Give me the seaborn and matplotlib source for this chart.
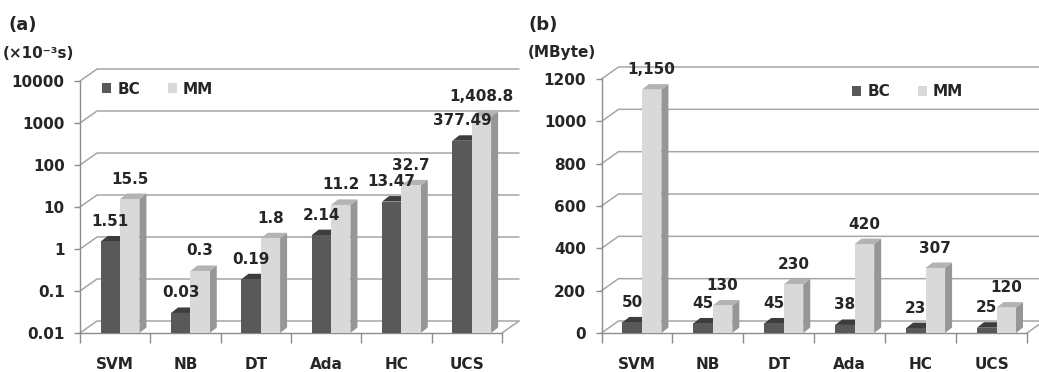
import matplotlib
matplotlib.use("Agg")
import matplotlib.pyplot as plt
import seaborn as sns
import pandas as pd
from matplotlib.patches import Polygon
from matplotlib.ticker import NullLocator, FixedLocator


# Data

methods = ["SVM", "NB", "DT", "Ada", "HC", "UCS"]
series = ["BC", "MM"]

time_bc = [1.51, 0.03, 0.19, 2.14, 13.47, 377.49]
time_mm = [15.5, 0.3, 1.8, 11.2, 32.7, 1408.8]
mem_bc = [50, 45, 45, 38, 23, 25]
mem_mm = [1150, 130, 230, 420, 307, 120]

time_ticks = [0.01, 0.1, 1, 10, 100, 1000, 10000]
time_ticklabels = ["0.01", "0.1", "1", "10", "100", "1000", "10000"]
mem_ticks = [0, 200, 400, 600, 800, 1000, 1200]
mem_ticklabels = ["0", "200", "400", "600", "800", "1000", "1200"]


# Styling

front = {"BC": "#595959", "MM": "#d9d9d9"}
side = {"BC": "#333333", "MM": "#969696"}
top = {"BC": "#3d3d3d", "MM": "#b3b3b3"}
grid_color = "#a6a6a6"
axis_color = "#8c8c8c"
text_color = "#262626"
WALL = (17, 12)     # depth of the back wall, pixels
BAR = (7, 5.5)      # depth of a bar, pixels
SHIFT = 0.07        # Excel pushes the bar pair a bit right of the category centre
FS = 11

sns.set_theme(style="white")
plt.rcParams["font.family"] = ["DejaVu Sans"]
plt.rcParams["font.weight"] = "bold"
plt.rcParams["axes.labelweight"] = "bold"
plt.rcParams["text.color"] = text_color
plt.rcParams["xtick.color"] = text_color
plt.rcParams["ytick.color"] = text_color


def shifted(ax, x, y, dx, dy):
    # move a data point by (dx, dy) pixels, return it in data coords
    px, py = ax.transData.transform((x, y))
    return ax.transData.inverted().transform((px + dx, py + dy))


def draw_panel(ax, bc, mm, ticks, ticklabels, log, legend_xy):
    df = pd.DataFrame({
        "method": methods * 2,
        "series": ["BC"] * len(methods) + ["MM"] * len(methods),
        "value": bc + mm,
    })

    sns.barplot(data=df, x="method", y="value", hue="series", palette=front,
                width=0.55, saturation=1, linewidth=0, ax=ax, zorder=3,
                log_scale=(False, True) if log else None)

    ax.set_ylim(ticks[0], ticks[-1])
    ax.set_xlim(-0.5, len(methods) - 0.5)
    ax.set_xlabel("")
    ax.set_ylabel("")
    ax.yaxis.set_major_locator(FixedLocator(ticks))
    ax.yaxis.set_minor_locator(NullLocator())
    ax.set_yticklabels(ticklabels)
    ax.xaxis.set_minor_locator(FixedLocator([i - 0.5 for i in range(len(methods) + 1)]))

    ax.tick_params(axis="y", which="major", direction="out", length=4, width=1,
                   color=axis_color, labelcolor=text_color, pad=7, labelsize=FS, left=True)
    ax.tick_params(axis="x", which="major", length=0, pad=17, labelsize=FS,
                   labelcolor=text_color)
    ax.tick_params(axis="x", which="minor", direction="out", length=7, width=1,
                   color=axis_color, bottom=True)
    for s in ["top", "right"]:
        ax.spines[s].set_visible(False)
    for s in ["left", "bottom"]:
        ax.spines[s].set_color(axis_color)
        ax.spines[s].set_linewidth(1)
        ax.spines[s].set_zorder(2)
    ax.patch.set_alpha(0)

    xl, xr = ax.get_xlim()
    y0 = ticks[0]

    # back wall grid with the diagonal from the front axis
    for t in ticks:
        bl = shifted(ax, xl, t, *WALL)
        br = shifted(ax, xr, t, *WALL)
        ax.plot([xl, bl[0], br[0]], [t, bl[1], br[1]], color=grid_color,
                lw=1.1, clip_on=False, zorder=1)
    fr = shifted(ax, xr, y0, *WALL)
    ax.plot([xr, fr[0]], [y0, fr[1]], color=grid_color, lw=1.1, clip_on=False, zorder=1)

    # bars: move pair, stand them on the floor, add side/top faces and labels
    for name, cont, vals in zip(series, ax.containers, [bc, mm]):
        for p, v in zip(cont.patches, vals):
            p.set_x(p.get_x() + SHIFT)
            p.set_y(y0)
            p.set_height(v - y0)
            x0 = p.get_x()
            x1 = x0 + p.get_width()
            yt = v
            side_pts = [(x1, y0), (x1, yt), shifted(ax, x1, yt, *BAR), shifted(ax, x1, y0, *BAR)]
            top_pts = [(x0, yt), (x1, yt), shifted(ax, x1, yt, *BAR), shifted(ax, x0, yt, *BAR)]
            ax.add_patch(Polygon(side_pts, closed=True, facecolor=side[name],
                                 edgecolor="none", zorder=2.5, clip_on=False))
            ax.add_patch(Polygon(top_pts, closed=True, facecolor=top[name],
                                 edgecolor="none", zorder=2.5, clip_on=False))
            ax.annotate(f"{v:,}", ((x0 + x1) / 2, yt), xytext=(0, 9),
                        textcoords="offset points", ha="center", va="bottom",
                        fontsize=FS, fontweight="bold", color=text_color,
                        annotation_clip=False, zorder=5)

    sns.move_legend(ax, "center left", bbox_to_anchor=legend_xy,
                    bbox_transform=ax.figure.transFigure, ncol=2, frameon=False,
                    title=None, handlelength=0.6, handleheight=0.6,
                    handletextpad=0.4, columnspacing=1.8, borderpad=0,
                    borderaxespad=0, fontsize=FS)


W, H = 1039, 372
fig = plt.figure(figsize=(W / 100, H / 100), dpi=100)
ax_a = fig.add_axes([80 / W, 39 / H, 422 / W, 252 / H])
ax_b = fig.add_axes([601.5 / W, 39 / H, 425.5 / W, 254 / H])

draw_panel(ax_a, time_bc, time_mm, time_ticks, time_ticklabels, True,
           (102 / W, 1 - 89 / H))
draw_panel(ax_b, mem_bc, mem_mm, mem_ticks, mem_ticklabels, False,
           (852 / W, 1 - 92 / H))

fig.text(8 / W, 1 - 25 / H, "(a)", fontsize=13, fontweight="bold", va="center")
fig.text(3 / W, 1 - 53 / H, "(×10⁻³s)", fontsize=FS, fontweight="bold", va="center")
fig.text(528 / W, 1 - 25 / H, "(b)", fontsize=13, fontweight="bold", va="center")
fig.text(528 / W, 1 - 53 / H, "(MByte)", fontsize=FS, fontweight="bold", va="center")

fig.savefig("out.png", dpi=100)
plt.close(fig)
